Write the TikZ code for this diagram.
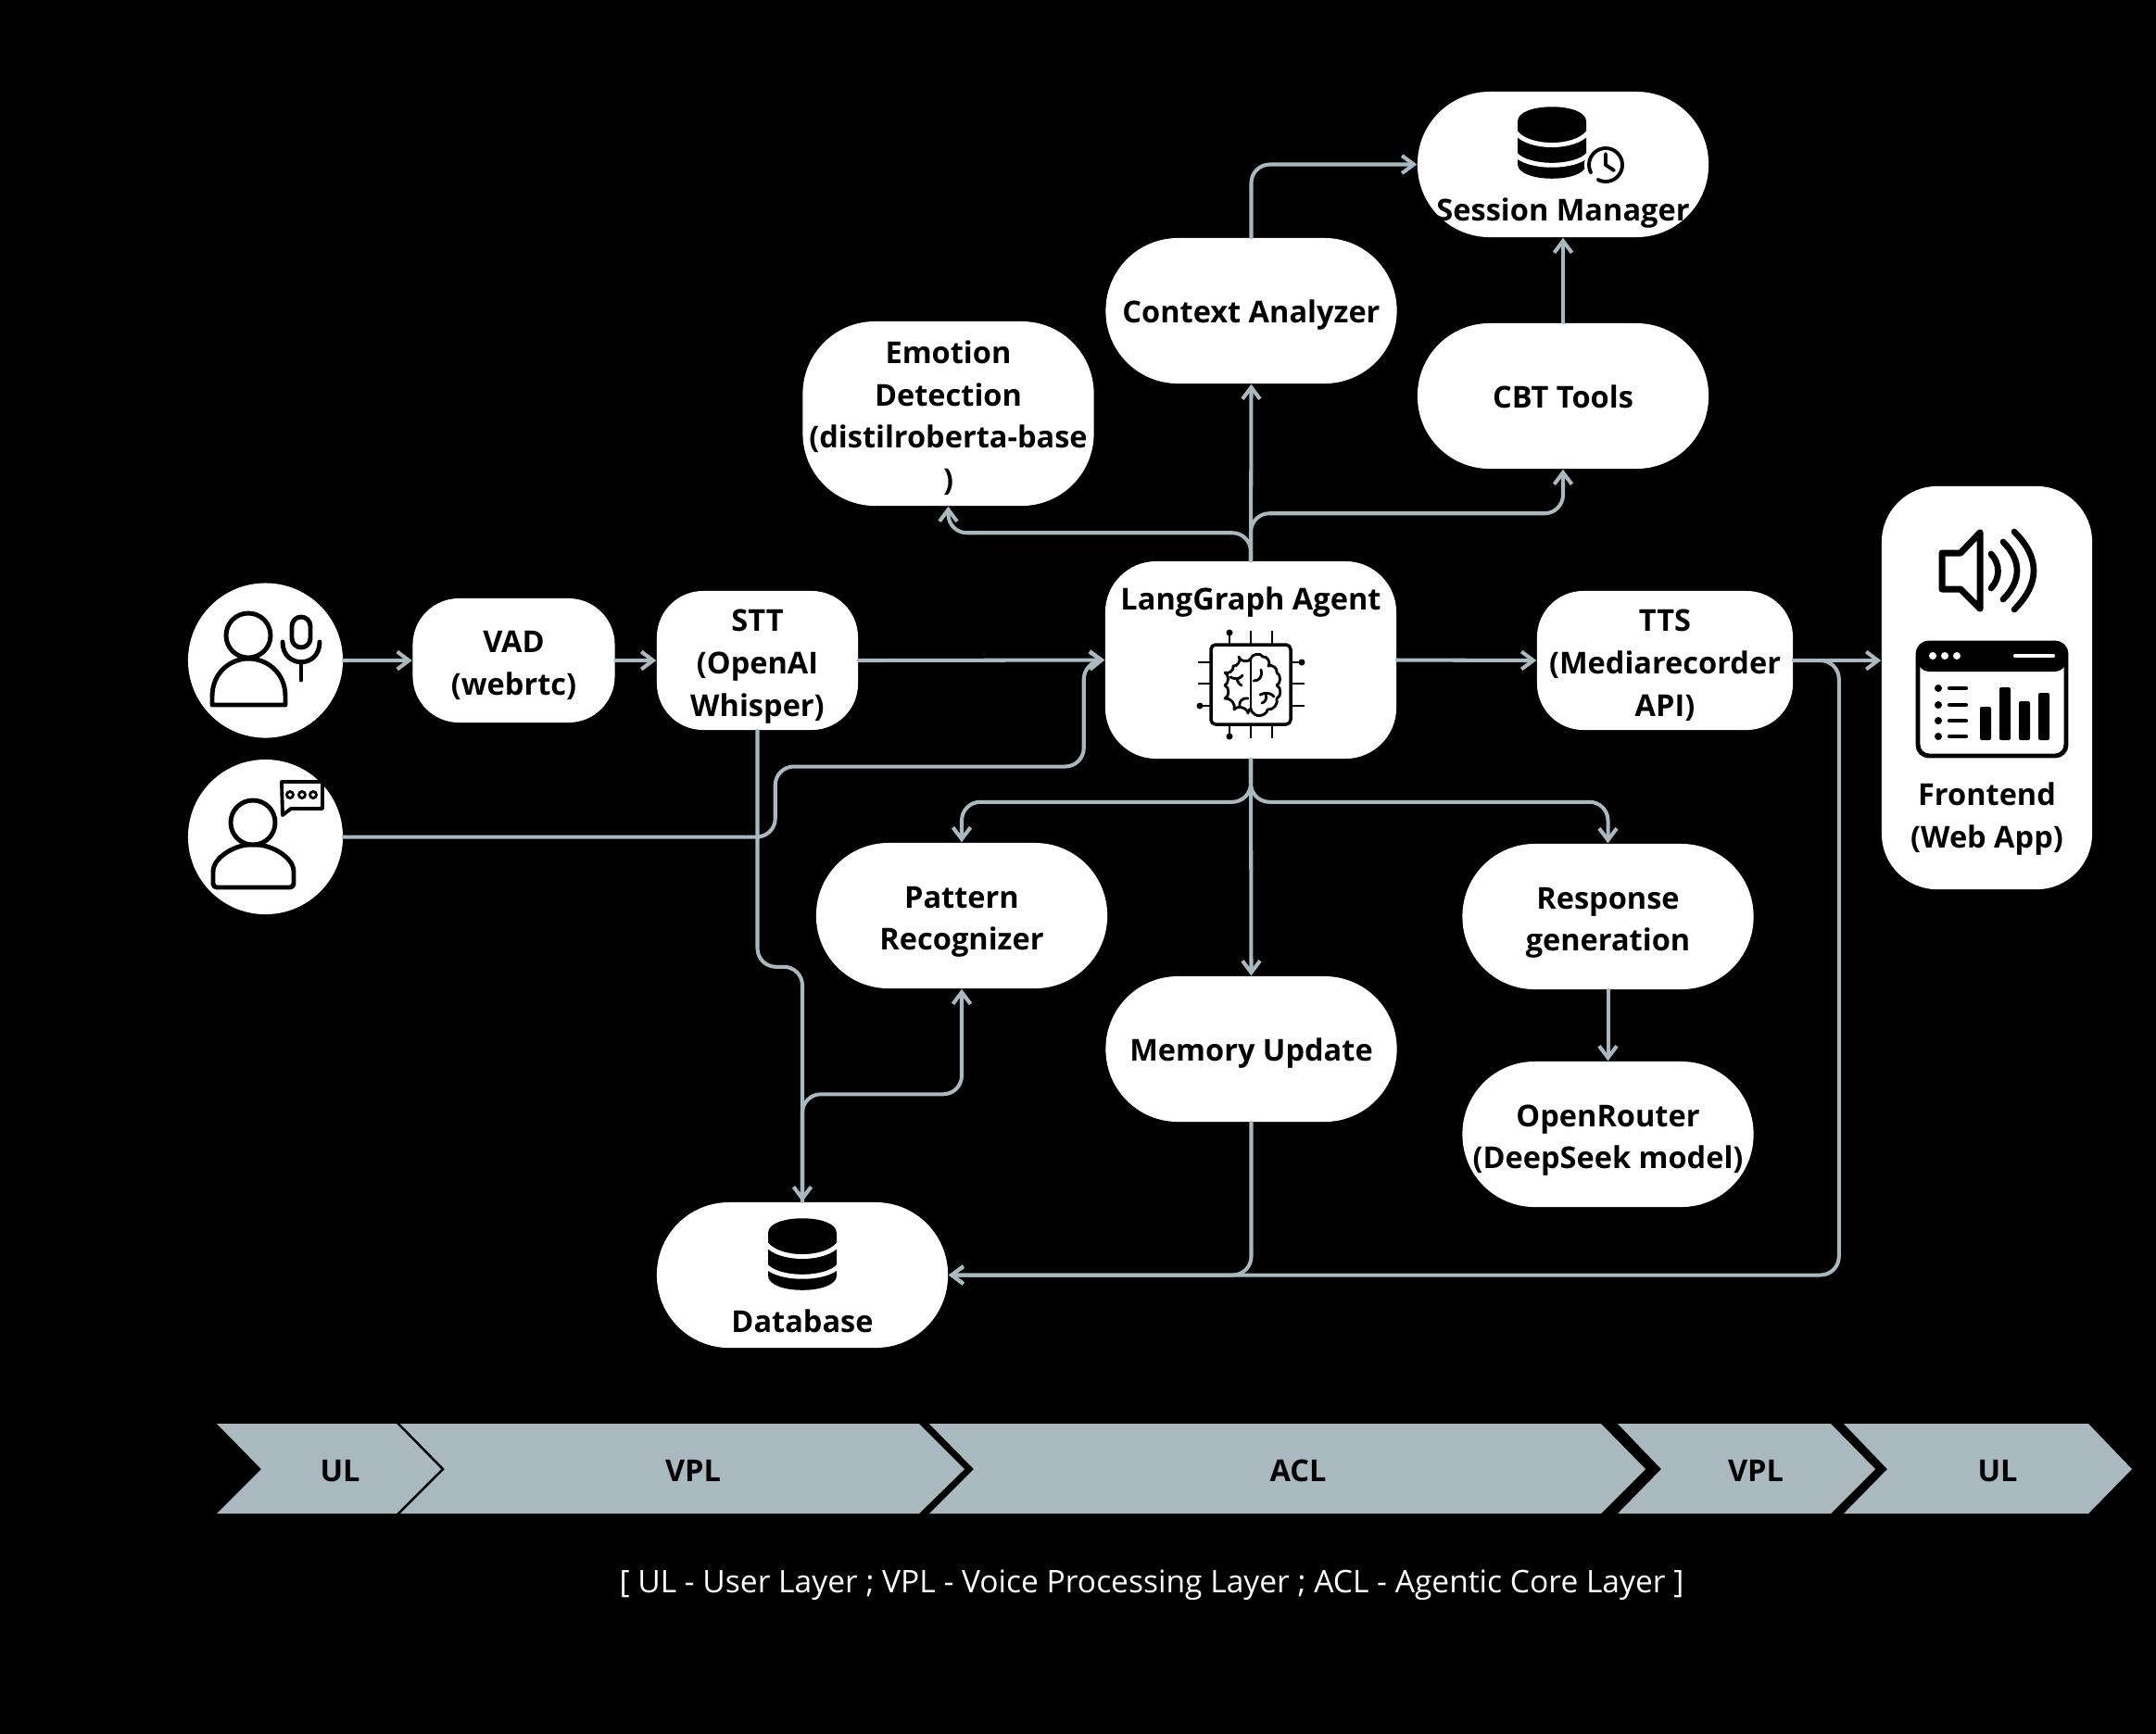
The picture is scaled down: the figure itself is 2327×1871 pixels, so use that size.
\documentclass[tikz,border=0pt]{standalone}
\usepackage{fontspec}
\setmainfont{Open Sans}
\usetikzlibrary{arrows.meta,calc,positioning}
\definecolor{steel}{HTML}{AAB8C0}
\newcommand{\labelfont}{\fontsize{9.25}{13}\selectfont\bfseries}
\newcommand{\lowtop}{\rule{0pt}{11.6pt}}
\newcommand{\dbicon}[2]{%
  \begin{scope}[shift={(#1,#2)}]
    \fill[black] (-37,16) .. controls (-37,-5) and (37,-5) .. (37,16) -- (37,62)
      .. controls (37,83) and (-37,83) .. (-37,62) -- cycle;
    \draw[white,line width=1.4pt] (-39,28) .. controls (-25,46) and (25,46) .. (39,28);
    \draw[white,line width=1.4pt] (-39,52) .. controls (-25,67) and (25,67) .. (39,52);
  \end{scope}}
\newcommand{\brainhalf}{%
  \draw[icon2,line cap=round] (0,-28) to[bend left=75] (13,-30) to[bend left=75] (19,-20)
    to[bend left=70] (28,-13) to[bend left=60] (28,1) to[bend left=70] (28,15)
    to[bend left=60] (18,27) to[bend left=70] (3,31) to[bend left=30] (0,26);}
\tikzset{
  capcentre/.style={execute at begin node={\rule{0pt}{11pt}},execute at end node={\rule[-3.4pt]{0pt}{3.4pt}}},
  box/.style={fill=white,text=black,font=\labelfont,align=center,inner sep=0pt,capcentre},
  pill/.style={box,minimum width=3.14cm,minimum height=1.57cm,rounded corners=.78cm},
  voicebox/.style={box,minimum height=1.5cm,rounded corners=.5cm},
  usercircle/.style={circle,fill=white,minimum size=1.67cm,inner sep=0pt},
  boxlabel/.style={text=black,font=\labelfont,align=center,inner sep=0pt,capcentre},
  bandlabel/.style={text=black,font=\labelfont,inner sep=0pt,capcentre},
  band/.style={fill=steel},
  conn/.style={draw=steel,line width=1.15pt,rounded corners=.2cm,line cap=round,
    -{Straight Barb[length=3.6pt,width=5.4pt]}},
  icon/.style={draw=black,line width=1.4pt,line join=round},
  icon2/.style={draw=black,line width=.8pt,line join=round},
}
\begin{document}
\begin{tikzpicture}[x=0.01cm,y=-0.01cm]
  \useasboundingbox (0,0) rectangle (2327,1871);
  \fill[black] (-5,-5) rectangle (2332,1876);
  % users
  \node[usercircle] (user1) at (286.5,713) {};
  \node[usercircle] (user2) at (286.5,903.5) {};
  \draw[icon] (268,686) circle[radius=.24cm];
  \draw[icon] (229,761) -- (229,752) .. controls (229,725) and (250,711) .. (268,711)
    .. controls (287,711) and (308,725) .. (308,752) -- (308,761) -- cycle;
  \draw[icon,rounded corners=.1cm] (315,666) rectangle (335,699);
  \draw[icon,line cap=round] (305,693) .. controls (305,722) and (345,722) .. (345,693);
  \draw[icon,line cap=round] (325,715) -- (325,734);
  \draw[icon] (273,888) circle[radius=.24cm];
  \draw[icon,rounded corners=.04cm] (230,958) -- (230,945) .. controls (230,925) and (255,912) .. (273,912)
    .. controls (292,912) and (317,925) .. (317,945) -- (317,958) -- cycle;
  \draw[icon2,line width=1.1pt] (304,844) -- (348,844) -- (348,873) -- (314,873) -- (305,880) -- cycle;
  \draw[icon2] (313,858) circle[radius=.035cm] (326,858) circle[radius=.035cm] (338,858) circle[radius=.035cm];
  % voice side
  \node[voicebox,minimum width=2.18cm,minimum height=1.34cm] (vad) at (554.5,713) {\lowtop VAD\\(webrtc)};
  \node[voicebox,minimum width=2.17cm] (stt) at (817.5,713) {\lowtop STT\\(OpenAI\\Whisper)};
  \node[box,minimum width=3.14cm,minimum height=2.13cm,rounded corners=.55cm] (agent) at (1350,712.5) {};
  \node[boxlabel] (agentlabel) at (1350,645) {LangGraph Agent};
  \node[voicebox,minimum width=2.76cm] (tts) at (1797,713) {\lowtop TTS\\(Mediarecorder\\API)};
  \node[box,minimum width=2.27cm,minimum height=4.35cm,rounded corners=.6cm] (frontend) at (2144.5,742.5) {};
  \node[boxlabel] (frontendlabel) at (2144.5,886) {Frontend\\(Web App)};
  % agents
  \node[pill] (session) at (1687,177.5) {};
  \node[boxlabel] (sessionlabel) at (1687,225) {Session Manager};
  \node[pill] (context) at (1350.5,335.5) {Context Analyzer};
  \node[pill] (cbt) at (1687,427.5) {CBT Tools};
  \node[pill,minimum height=1.99cm] (emotion) at (1023.5,446.5) {\lowtop Emotion\\Detection\\(distilroberta-base\\)};
  \node[pill] (pattern) at (1038,988.5) {\lowtop Pattern\\Recognizer};
  \node[pill] (memory) at (1350.5,1132.5) {Memory Update};
  \node[pill] (response) at (1735.5,989.5) {\lowtop Response\\generation};
  \node[pill] (router) at (1735.5,1224.5) {\lowtop OpenRouter\\(DeepSeek model)};
  \node[pill] (database) at (866,1376.5) {};
  \node[boxlabel] (databaselabel) at (866,1425) {Database};
  % icons
  \dbicon{1675}{115}
  \dbicon{866}{1315}
  \fill[white] (1733,178) circle[radius=.23cm];
  \draw[black,line width=1.1pt,line cap=round] (1733,196) arc[start angle=-90,delta angle=270,radius=.18cm];
  \draw[black,line width=1.1pt,line cap=round,dash pattern=on 2.5pt off 3pt] (1715,178) arc[start angle=180,delta angle=90,radius=.18cm];
  \draw[black,line width=1.1pt,line cap=round,line join=round] (1733,166) -- (1733,178) -- (1742,184);
  % chip
  \draw[icon2,line width=1pt,rounded corners=.05cm] (1307,696) rectangle (1393,782);
  \draw[icon2] (1327,696) -- (1327,681) (1350,696) -- (1350,681) (1373,696) -- (1373,681);
  \draw[icon2] (1327,782) -- (1327,797) (1350,782) -- (1350,797) (1373,782) -- (1373,797);
  \draw[icon2] (1307,715) -- (1293,715) (1307,738) -- (1293,738) (1307,762) -- (1293,762);
  \draw[icon2] (1393,715) -- (1408,715) (1393,738) -- (1408,738) (1393,762) -- (1408,762);
  \fill[black] (1327,683) circle[radius=.035cm] (1327,795) circle[radius=.035cm]
    (1295,762) circle[radius=.035cm] (1405,715) circle[radius=.035cm];
  \begin{scope}[shift={(1350,739)}]
    \brainhalf
    \begin{scope}[xscale=-1]
      \draw[icon2,line cap=round] (0,-28) to[bend right=75] (13,-30) to[bend right=75] (19,-20)
        to[bend right=70] (28,-13) to[bend right=60] (28,1) to[bend right=70] (28,15)
        to[bend right=60] (18,27) to[bend right=70] (3,31) to[bend right=30] (0,26);
    \end{scope}
    \draw[icon2] (0,-28) -- (0,26);
    \draw[icon2,line cap=round] (-22,-8) .. controls (-16,-5) and (-12,-6) .. (-9,-10) (-15,-6) .. controls (-14,-2) and (-12,0) .. (-10,1);
    \draw[icon2,line cap=round] (11,-16) .. controls (13,-8) and (9,-4) .. (3,-4);
    \draw[icon2,line cap=round] (10,11) .. controls (16,8) and (22,9) .. (25,13) (16,10) .. controls (18,16) and (15,19) .. (12,20);
    \draw[icon2,line cap=round] (-3,15) .. controls (-10,14) and (-13,19) .. (-12,24);
  \end{scope}
  % frontend icons
  \draw[black,line width=2pt,line join=round] (2096,597) -- (2116,597) -- (2137,575) -- (2137,657)
    -- (2116,636) -- (2096,636) -- cycle;
  \draw[black,line width=1.9pt,line cap=round] (2149,598) .. controls (2159,609) and (2159,624) .. (2149,635);
  \draw[black,line width=1.9pt,line cap=round] (2162,585) .. controls (2182,605) and (2182,627) .. (2162,647);
  \draw[black,line width=1.9pt,line cap=round] (2174,574) .. controls (2202,602) and (2202,630) .. (2174,658);
  \draw[black,line width=1.4pt,rounded corners=.12cm] (2070,694) rectangle (2230,816);
  \fill[black,rounded corners=.12cm] (2070,694) -- (2230,694) -- (2230,725) -- (2070,725) -- cycle;
  \fill[white] (2086,708) circle[radius=.04cm] (2099,708) circle[radius=.04cm] (2112,708) circle[radius=.04cm];
  \draw[white,line width=1.2pt,line cap=round] (2175,708) -- (2216,708);
  \fill[black] (2092,743) circle[radius=.04cm] (2092,761) circle[radius=.04cm]
    (2092,778) circle[radius=.04cm] (2092,795) circle[radius=.04cm];
  \draw[black,line width=1.2pt,line cap=round] (2104,743) -- (2122,743) (2104,761) -- (2122,761)
    (2104,778) -- (2122,778) (2104,795) -- (2122,795);
  \fill[black,rounded corners=.02cm] (2137,763) rectangle (2149,799);
  \fill[black,rounded corners=.02cm] (2158,742) rectangle (2170,799);
  \fill[black,rounded corners=.02cm] (2179,757) rectangle (2191,799);
  \fill[black,rounded corners=.02cm] (2200,748) rectangle (2212,799);
  % connectors
  \draw[conn] (user1.east) -- (vad.west);
  \draw[conn] (vad.east) -- (stt.west);
  \draw[conn] (stt.east) -- (agent.west);
  \draw[conn] (user2.east) -- ++(466,0) -- ++(0,-76) -- ++(333,0) -- ++(0,-114) -- (agent.west);
  \draw[conn] (agent.east) -- (tts.west);
  \draw[conn] (tts.east) -- (frontend.west |- tts.east);
  \draw[conn] (tts.east) -- ++(49,0) |- (database.east);
  \draw[conn] (stt.south) -- ++(0,255) -| (database.north);
  \draw[conn] (database.north) -- ++(0,-116) -| (pattern.south);
  \draw[conn] (memory.south) |- (database.east);
  \draw[conn] (agent.south) -- ++(0,46) -| (pattern.north);
  \draw[conn] (agent.south) -- (memory.north);
  \draw[conn] (agent.south) -- ++(0,46) -| (response.north);
  \draw[conn] (response.south) -- (router.north);
  \draw[conn] (agent.north) -- (context.south);
  \draw[conn] (agent.north) -- ++(0,-30) -| (emotion.south);
  \draw[conn] (agent.north) -- ++(0,-51) -| (cbt.south);
  \draw[conn] (context.north) |- (session.west);
  \draw[conn] (cbt.north) -- (session.south);
  % layer band
  \fill[band] (234,1537) -- (428,1537) -- (476,1586) -- (428,1634) -- (234,1634) -- (282,1586) -- cycle;
  \fill[band] (432,1537) -- (992,1537) -- (1041,1586) -- (992,1634) -- (432,1634) -- (480,1586) -- cycle;
  \fill[band] (1003,1537) -- (1728,1537) -- (1776,1586) -- (1728,1634) -- (1003,1634) -- (1051,1586) -- cycle;
  \fill[band] (1746,1537) -- (1976,1537) -- (2024,1586) -- (1976,1634) -- (1746,1634) -- (1793,1586) -- cycle;
  \fill[band] (1990,1537) -- (2254,1537) -- (2301,1586) -- (2254,1634) -- (1990,1634) -- (2037,1586) -- cycle;
  \node[bandlabel] (ul1) at (367,1586) {UL};
  \node[bandlabel] (vpl1) at (748,1586) {VPL};
  \node[bandlabel] (acl) at (1401,1586) {ACL};
  \node[bandlabel] (vpl2) at (1895,1586) {VPL};
  \node[bandlabel] (ul2) at (2156,1586) {UL};
  \node[text=white,font=\fontsize{9.55}{12}\selectfont,inner sep=0pt,capcentre] (legend) at (1243,1706)
    {[ UL - User Layer ; VPL - Voice Processing Layer ; ACL - Agentic Core Layer ]};
\end{tikzpicture}
\end{document}
